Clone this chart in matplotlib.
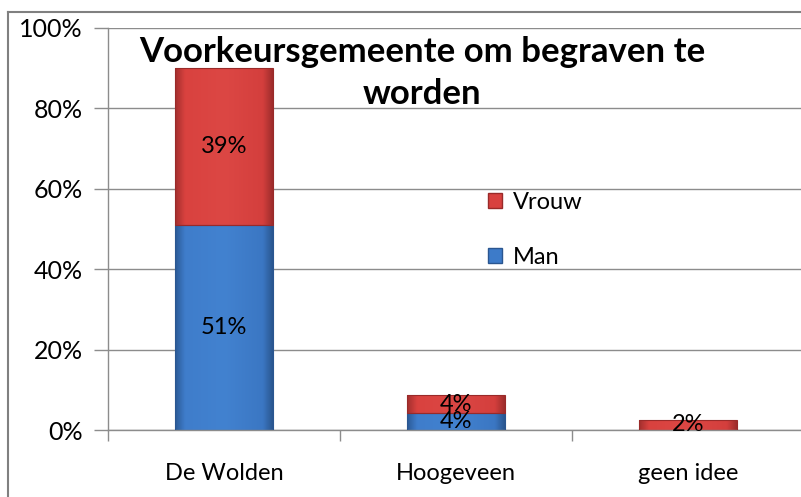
import numpy as np
import matplotlib
matplotlib.use('Agg')
import matplotlib.pyplot as plt
from matplotlib.colors import LinearSegmentedColormap
from matplotlib.lines import Line2D
from matplotlib.patches import Patch

plt.rcParams['font.family'] = ['Lato', 'DejaVu Sans']

categories = ['De Wolden', 'Hoogeveen', 'geen idee']
man = [51, 4.2, 0]
vrouw = [39, 4.4, 2.5]
man_labels = ['51%', '4%', '']
vrouw_labels = ['39%', '4%', '2%']
yticks = [0, 20, 40, 60, 80, 100]

title = 'Voorkeursgemeente om begraven te\nworden'

blue = '#3d7bc9'
red = '#d8413f'
blue_cmap = LinearSegmentedColormap.from_list(
    'b', [(0, '#2b5a96'), (0.1, '#3f7dcb'), (0.5, '#4282d0'), (0.9, '#3b77c3'), (1, '#2a5790')])
red_cmap = LinearSegmentedColormap.from_list(
    'r', [(0, '#a32f2e'), (0.1, '#d9423f'), (0.5, '#dc4744'), (0.9, '#d43f3d'), (1, '#9e2d2c')])

fig = plt.figure(figsize=(8.01, 4.97), dpi=100)
ax = fig.add_axes([108 / 801, 67 / 497, 696 / 801, 402 / 497])

x = np.arange(len(categories))
width = 0.42
grad = np.linspace(0, 1, 200).reshape(1, -1)


def shaded(bars, cmap, edge):
    for b in bars:
        if b.get_height() <= 0:
            continue
        b.set_facecolor('none')
        b.set_edgecolor(edge)
        b.set_linewidth(0.8)
        x0, y0 = b.get_x(), b.get_y()
        im = ax.imshow(grad, cmap=cmap, aspect='auto', zorder=2,
                       extent=[x0, x0 + b.get_width(), y0, y0 + b.get_height()])
        im.set_clip_path(b)


b1 = ax.bar(x, man, width, color=blue, zorder=3)
b2 = ax.bar(x, vrouw, width, bottom=man, color=red, zorder=3)
shaded(b1, blue_cmap, '#2a5690')
shaded(b2, red_cmap, '#992a29')

for i in range(len(categories)):
    if man_labels[i]:
        ax.text(x[i], man[i] / 2, man_labels[i], ha='center', va='center', fontsize=17, zorder=5)
    if vrouw_labels[i]:
        ax.text(x[i], man[i] + vrouw[i] / 2, vrouw_labels[i], ha='center', va='center', fontsize=17, zorder=5)

ax.set_xlim(-0.5, 2.5)
ax.set_ylim(0, 100)
ax.set_yticks(yticks)
ax.set_yticklabels([f'{v}%' for v in yticks], fontsize=18)
ax.yaxis.grid(True, color='#8c8c8c', linewidth=1)
ax.set_axisbelow(True)

ax.set_xticks([-0.5, 0.5, 1.5, 2.5])
ax.set_xticklabels([])
ax.set_xticks(x, minor=True)
ax.set_xticklabels(categories, minor=True, fontsize=17)
ax.tick_params(axis='x', which='minor', length=0, pad=24)
ax.tick_params(axis='x', which='major', length=8, color='#8c8c8c', width=1)
ax.tick_params(axis='y', length=10, color='#8c8c8c', width=1, pad=8)

for s in ['top', 'right']:
    ax.spines[s].set_visible(False)
for s in ['left', 'bottom']:
    ax.spines[s].set_color('#8c8c8c')
    ax.spines[s].set_linewidth(1)

ax.text(0.855, 98, title, ha='center', va='top', fontsize=25, fontweight='bold',
        linespacing=1.4, zorder=6)

handles = [Patch(facecolor=red, edgecolor='#992a29'), Patch(facecolor=blue, edgecolor='#2a5690')]
ax.legend(handles, ['Vrouw', 'Man'], loc='upper left', bbox_to_anchor=(0.515, 0.645),
          frameon=False, fontsize=17, handlelength=0.6, handleheight=0.6,
          handletextpad=0.45, labelspacing=1.45)

fig.add_artist(Line2D([8 / 801, 8 / 801], [0, 485 / 497], color='#808080', lw=1.5))
fig.add_artist(Line2D([8 / 801, 1], [485 / 497, 485 / 497], color='#808080', lw=1.5))

fig.savefig('out.png', dpi=100)
